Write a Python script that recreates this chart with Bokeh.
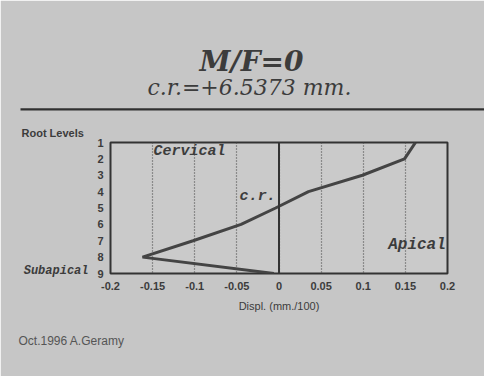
from bokeh.plotting import figure
from bokeh.models import Range1d, FixedTicker, Span, Title, LinearAxis
from bokeh.embed import file_html
from bokeh.resources import INLINE
from bokeh.core.properties import value

# ---- data ----
root_levels = [1, 2, 3, 4, 5, 6, 7, 8, 9]
displacement = [0.162, 0.149, 0.099, 0.035, -0.004, -0.045, -0.102, -0.162, -0.006]
x_ticks = [-0.2, -0.15, -0.1, -0.05, 0, 0.05, 0.1, 0.15, 0.2]
x_tick_labels = ["-0.2", "-0.15", "-0.1", "-0.05", "0", "0.05", "0.1", "0.15", "0.2"]
y_ticks = [1, 2, 3, 4, 5, 6, 7, 8, 9]
title_text = "M/F=0"
subtitle_text = "c.r.=+6.5373  mm."

BG = "#c6c6c6"
INK = "#3c3c3c"

p = figure(width=484, height=376, x_range=Range1d(-0.2, 0.2), y_range=Range1d(9, 1),
           output_backend="svg", toolbar_location=None,
           min_border_left=110, min_border_right=37, min_border_top=142, min_border_bottom=103,
           background_fill_color="#cacaca", border_fill_color=BG,
           outline_line_color="#333333", outline_line_width=2)

# main title (outermost in the top panel)
p.title.text = title_text
p.title.align = "left"
p.title.offset = 89
p.title.text_font = "DejaVu Serif"
p.title.text_font_style = "bold italic"
p.title.text_font_size = "28px"
p.title.text_color = INK
p.title.standoff = -3

# top panel, closest to the frame first
p.add_layout(Title(text="Root Levels", align="left", offset=-89, text_font="Liberation Sans",
                   text_font_style="bold", text_font_size="11px", text_color=INK,
                   standoff=8), "above")
p.add_layout(Title(text=" ", text_font_size="2px", background_fill_color="#303030",
                   padding=(232, 0), align="left", offset=-90, standoff=20), "above")
p.add_layout(Title(text=subtitle_text, align="left", offset=37, text_font="DejaVu Serif",
                   text_font_style="italic", text_font_size="22px", text_color=INK,
                   standoff=-7), "above")

# footer
p.add_layout(Title(text="Oct.1996 A.Geramy", align="left", offset=-92,
                   text_font="Liberation Sans", text_font_style="normal",
                   text_font_size="12px", text_color="#555555", standoff=35), "below")

p.xaxis.ticker = FixedTicker(ticks=x_ticks)
p.xaxis.major_label_overrides = {t: l for t, l in zip(x_ticks, x_tick_labels)}
p.yaxis.ticker = FixedTicker(ticks=y_ticks)
for ax in (p.xaxis, p.yaxis):
    ax.axis_line_color = None
    ax.major_tick_line_color = None
    ax.minor_tick_line_color = None
    ax.major_label_text_font = "Liberation Sans"
    ax.major_label_text_font_style = "bold"
    ax.major_label_text_font_size = "11px"
    ax.major_label_text_color = INK
p.xaxis.major_label_standoff = 2
p.yaxis.major_label_standoff = 1
p.xaxis.axis_label = "Displ. (mm./100)"
p.xaxis.axis_label_text_font = "Liberation Sans"
p.xaxis.axis_label_text_font_style = "normal"
p.xaxis.axis_label_text_font_size = "11px"
p.xaxis.axis_label_text_color = INK
p.xaxis.axis_label_standoff = 7

# "Subapical" marker as an outer left axis
sub_axis = LinearAxis(ticker=FixedTicker(ticks=[8.82]), major_label_overrides={8.82: "Subapical"},
                      axis_line_color=None, major_tick_line_color=None, minor_tick_line_color=None,
                      major_label_text_font="Liberation Mono", major_label_text_font_style="bold italic",
                      major_label_text_font_size="12px", major_label_text_color=INK,
                      major_label_standoff=0)
p.add_layout(sub_axis, "left")

p.xgrid.ticker = FixedTicker(ticks=x_ticks)
p.xgrid.grid_line_color = "#4a4a4a"
p.xgrid.grid_line_dash = "1 2"
p.xgrid.grid_line_width = 1.2
p.ygrid.grid_line_color = None

p.add_layout(Span(location=0, dimension="height", line_color="#333333", line_width=2))

p.line(displacement, root_levels, line_color="#444444", line_width=3)

mono = value("Liberation Mono")
p.text(x=[-0.149], y=[1.55], text=["Cervical"], text_font=mono, text_font_style="bold italic",
       text_font_size="15px", text_color=INK, text_baseline="middle", text_align="left")
p.text(x=[-0.004], y=[4.3], text=["c.r."], text_font=mono, text_font_style="bold italic",
       text_font_size="15px", text_color=INK, text_baseline="middle", text_align="right")
p.text(x=[0.198], y=[7.29], text=["Apical"], text_font=mono, text_font_style="bold italic",
       text_font_size="16px", text_color=INK, text_baseline="middle", text_align="right")

open("out.html", "w").write(file_html(p, INLINE))
